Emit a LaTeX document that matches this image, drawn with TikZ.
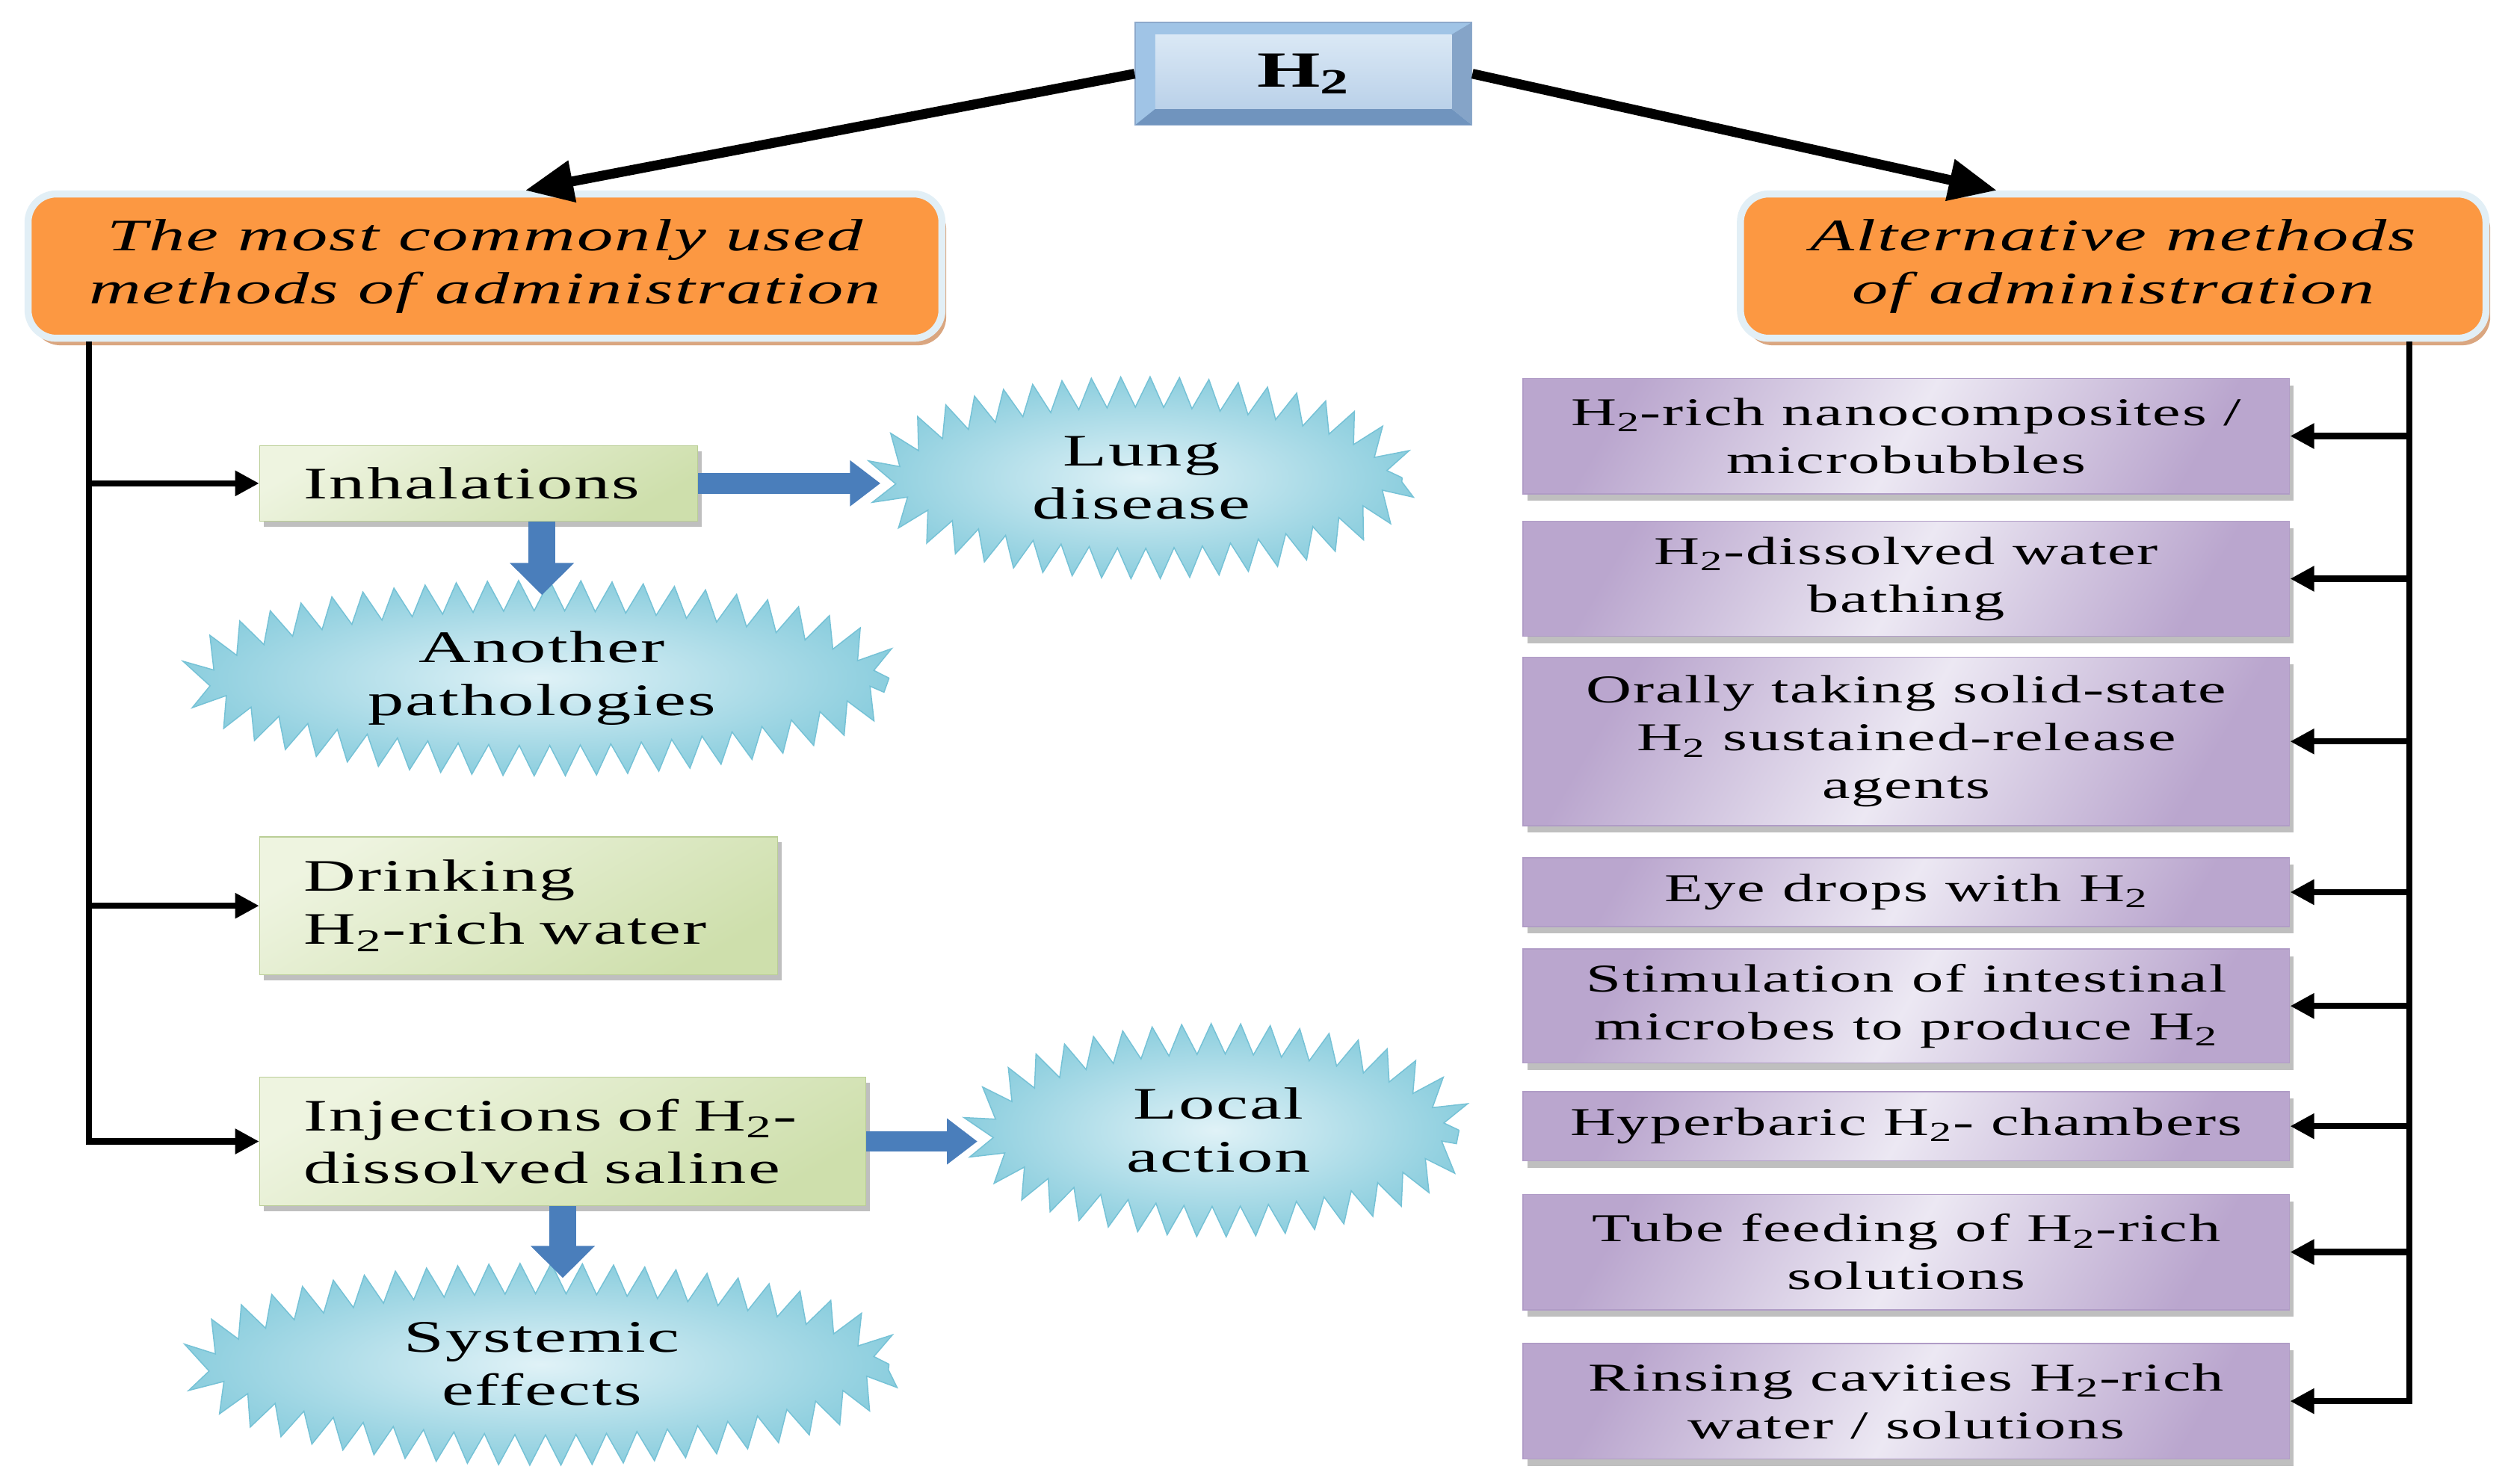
\documentclass[tikz,border=0pt]{standalone}
\usepackage{fontspec}
\setmainfont{Liberation Serif}[FakeStretch=1.6, LetterSpace=3.5]
\usepackage{tikz}
\usetikzlibrary{shapes.geometric, arrows.meta, decorations.pathmorphing, shadows, calc}
\usepackage{xcolor}
\definecolor{arancio}{RGB}{252,152,66}
\definecolor{bordochiaro}{RGB}{226,239,246}
\definecolor{ombraarancio}{RGB}{218,166,128}
\definecolor{azzurroC}{RGB}{218,232,245}
\definecolor{azzurroS}{RGB}{186,209,233}
\definecolor{azzurroL}{RGB}{160,196,230}
\definecolor{azzurroD}{RGB}{112,148,190}
\definecolor{verdeC}{RGB}{238,244,224}
\definecolor{verdeS}{RGB}{206,223,172}
\definecolor{verdeB}{RGB}{186,206,150}
\definecolor{violaC}{RGB}{236,232,243}
\definecolor{violaS}{RGB}{186,166,206}
\definecolor{violaB}{RGB}{176,156,198}
\definecolor{cieloC}{RGB}{224,242,247}
\definecolor{cieloS}{RGB}{140,206,222}
\definecolor{cieloB}{RGB}{118,194,214}
\definecolor{blu}{RGB}{74,126,187}
\newcommand{\Hii}{H\textsubscript{2}}

\begin{document}
\begin{tikzpicture}[
    titolo/.style = {fill=azzurroL, draw=azzurroD!80, thin, minimum width=4.2cm, minimum height=1.28cm, font=\fontsize{18}{20}\selectfont\bfseries,
        path picture={
            \coordinate (bsw) at (path picture bounding box.south west);
            \coordinate (bne) at (path picture bounding box.north east);
            \coordinate (bse) at (path picture bounding box.south east);
            \fill[azzurroD] (bsw) -- ($(bsw)+(0.25,0.2)$) -- ($(bse)+(-0.25,0.2)$) -- (bse) -- cycle;
            \fill[azzurroD!85] (bse) -- (bne) -- ($(bne)+(-0.25,-0.15)$) -- ($(bse)+(-0.25,0.2)$) -- cycle;
            \shade[top color=azzurroC, bottom color=azzurroS] ($(bsw)+(0.25,0.2)$) rectangle ($(bne)+(-0.25,-0.15)$);
        }},
    metodo/.style = {rounded corners=10pt, fill=arancio, draw=bordochiaro, line width=2.5pt, minimum height=1.8cm, align=center, font=\fontsize{16}{18.8}\selectfont\itshape, drop shadow={shadow xshift=1.5pt, shadow yshift=-2.5pt, fill=ombraarancio, opacity=1}},
    via/.style = {draw=verdeB, top color=verdeC, bottom color=verdeS, shading angle=30, align=left, inner xsep=0.55cm, font=\fontsize{16}{18.8}\selectfont, drop shadow={shadow xshift=1.5pt, shadow yshift=-2pt, fill=black!25, opacity=1}},
    effetto/.style = {ellipse, decorate, decoration={zigzag, segment length=#1, amplitude=0.19cm}, draw=cieloB, inner color=cieloC, outer color=cieloS, align=center, font=\fontsize{16}{18.8}\selectfont},
    alternativa/.style = {draw=violaB, top color=violaS, bottom color=violaS, middle color=violaC, shading angle=60, minimum width=9.56cm, align=center, font=\fontsize{14}{17}\selectfont, drop shadow={shadow xshift=1.5pt, shadow yshift=-2.5pt, fill=black!25, opacity=1}},
    freccia/.style = {line width=3.5pt, -{Triangle[length=0.6cm, width=0.5cm]}},
    ramo/.style = {line width=2.2pt, -{Triangle[length=0.3cm, width=0.3cm]}},
    blufreccia/.style = {draw=blu, line width=0.26cm, -{Triangle[length=0.38cm, width=0.55cm]}}
]
    \useasboundingbox (0,0) rectangle (31.36,-18.51);
    % Nodi
    \node[titolo] (h2) at (16.26,-0.92) {\Hii};
    \node[metodo, minimum width=11.4cm] (comuni) at (6.05,-3.32) {The most commonly used\\methods of administration};
    \node[metodo, minimum width=9.3cm] (altri) at (26.36,-3.32) {Alternative methods\\of administration};
    % Sinistra
    \node[via, text width=4.36cm, minimum height=0.94cm] (inal) at (5.97,-6.03) {Inhalations};
    \node[via, text width=5.36cm, minimum height=1.72cm] (bere) at (6.47,-11.3) {Drinking\\\Hii-rich water};
    \node[via, text width=6.46cm, minimum height=1.6cm] (iniez) at (7.02,-14.24) {Injections of \Hii-\\dissolved saline};
    \node[effetto=0.36cm, minimum width=6.5cm, minimum height=2.14cm] (polmone) at (14.24,-5.96) {Lung\\disease};
    \node[effetto=0.385cm, minimum width=8.66cm, minimum height=2.06cm] (altre) at (6.76,-8.46) {Another\\pathologies};
    \node[effetto=0.36cm, minimum width=6.0cm, minimum height=2.28cm] (locale) at (15.2,-14.1) {Local\\action};
    \node[effetto=0.385cm, minimum width=8.66cm, minimum height=2.14cm] (sistemico) at (6.76,-17.02) {Systemic\\effects};
    % Destra
    \node[alternativa, minimum height=1.44cm] (nano) at (23.78,-5.44) {\Hii-rich nanocomposites /\\microbubbles};
    \node[alternativa, minimum height=1.44cm] (bagno) at (23.78,-7.22) {\Hii-dissolved water\\bathing};
    \node[alternativa, minimum height=2.1cm] (orale) at (23.78,-9.25) {Orally taking solid-state\\\Hii{} sustained-release\\agents};
    \node[alternativa, minimum height=0.86cm] (occhi) at (23.78,-11.13) {Eye drops with \Hii};
    \node[alternativa, minimum height=1.42cm] (micro) at (23.78,-12.55) {Stimulation of intestinal\\microbes to produce \Hii};
    \node[alternativa, minimum height=0.86cm] (iperb) at (23.78,-14.05) {Hyperbaric \Hii- chambers};
    \node[alternativa, minimum height=1.44cm] (sonda) at (23.78,-15.62) {Tube feeding of \Hii-rich\\solutions};
    \node[alternativa, minimum height=1.44cm] (risc) at (23.78,-17.48) {Rinsing cavities \Hii-rich\\water / solutions};
    % Frecce
    \draw[freccia] (h2.west) -- ([xshift=0.5cm]comuni.north);
    \draw[freccia] (h2.east) -- ([xshift=-1.45cm]altri.north);
    \coordinate (sx) at ([xshift=0.8cm]comuni.south west);
    \coordinate (dx) at ([xshift=-1.0cm]altri.south east);
    \foreach \n in {inal, bere, iniez} \draw[ramo] (sx) |- (\n.west);
    \foreach \n in {nano, bagno, orale, occhi, micro, iperb, sonda, risc} \draw[ramo] (dx) |- (\n.east);
    \draw[blufreccia] (inal.east) -- (inal.east -| polmone.west);
    \draw[blufreccia] (iniez.east) -- (iniez.east -| locale.west);
    \draw[blufreccia, line width=0.34cm, -{Triangle[length=0.4cm, width=0.78cm]}] (inal.south -| altre.north) -- (altre.north);
    \draw[blufreccia, line width=0.34cm, -{Triangle[length=0.4cm, width=0.78cm]}] (iniez.south) -- (iniez.south |- sistemico.north);
\end{tikzpicture}
\end{document}
